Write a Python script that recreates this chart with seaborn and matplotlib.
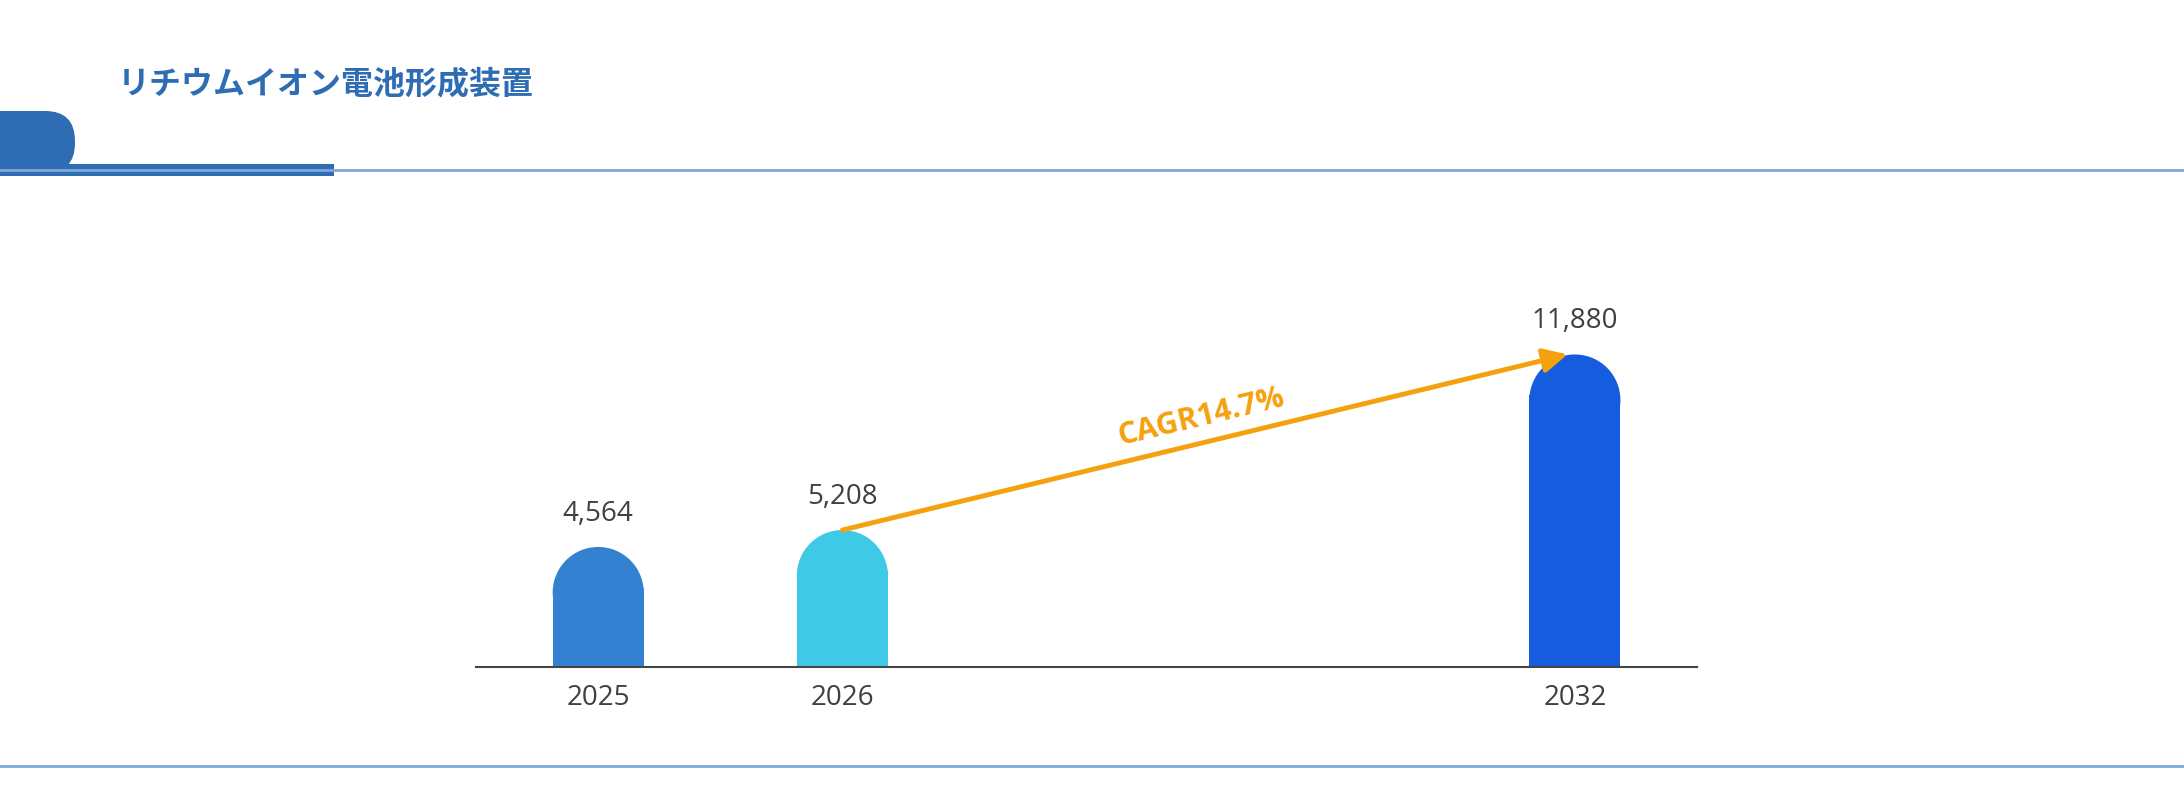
import matplotlib
matplotlib.use("Agg")
import matplotlib.pyplot as plt
import seaborn as sns
import pandas as pd
from matplotlib.patches import Rectangle, Ellipse, FancyBboxPatch

years = ["2025", "2026", " ", "  ", "2032"]
bar_years = ["2025", "2026", "2032"]
values = [4564, 5208, 11880]
colors = ["#3481D2", "#3ECAE6", "#165CDE"]
title = "リチウムイオン電池形成装置"
cagr_label = "CAGR14.7%"

sns.set_theme(style="white")
plt.rcParams["font.family"] = ["Open Sans", "Noto Sans CJK JP", "DejaVu Sans"]

fig = plt.figure(figsize=(21.84, 7.96), dpi=100)
ax = fig.add_axes([0.218, 0.162, 0.559, 0.595])

df = pd.DataFrame({"year": bar_years, "value": values})
sns.barplot(data=df, x="year", y="value", order=years, hue="year",
            palette=dict(zip(bar_years, colors)), width=0.373, saturation=1,
            legend=False, ax=ax)
ax.set_xlim(-0.5, 4.5)
ax.set_ylim(0, 18000)

# replace bars with rounded-top versions
px_per_y = ax.transData.transform((0, 1))[1] - ax.transData.transform((0, 0))[1]
px_per_x = ax.transData.transform((1, 0))[0] - ax.transData.transform((0, 0))[0]
tops = {}
for patch in list(ax.patches):
    x, w, h = patch.get_x(), patch.get_width(), patch.get_height()
    if h <= 0:
        continue
    fc = patch.get_facecolor()
    patch.set_visible(False)
    r = (w * px_per_x / 2) / px_per_y
    ax.add_patch(Rectangle((x, 0), w, h - r * 0.9, facecolor=fc, edgecolor="none", lw=0))
    ax.add_patch(Ellipse((x + w / 2, h - r), w, 2 * r, facecolor=fc, edgecolor="none", lw=0))
    tops[round(x + w / 2)] = h
    ax.annotate(f"{int(h):,}", (x + w / 2, h), xytext=(0, 14), textcoords="offset points",
                ha="center", va="bottom", fontsize=20, color="#404040")

# CAGR arrow
ax.annotate("", xy=(3.97, tops[4]), xytext=(1, tops[1]),
            arrowprops=dict(arrowstyle="-|>,head_length=1.2,head_width=0.6",
                            color="#F5A10F", lw=3.5, shrinkA=0, shrinkB=0))
ax.text(2.47, 9500, cagr_label, rotation=13.5, ha="center", va="center",
        fontsize=22, fontweight="bold", color="#F5A10F")

for s in ["top", "right", "left"]:
    ax.spines[s].set_visible(False)
ax.spines["bottom"].set_color("#444444")
ax.spines["bottom"].set_linewidth(1.5)
ax.set_yticks([])
ax.set_xlabel("")
ax.set_ylabel("")
ax.tick_params(axis="x", length=0, labelsize=20, labelcolor="#404040", pad=12)

# header and frame decorations in pixel coords
ov = fig.add_axes([0, 0, 1, 1], zorder=-1)
ov.set_xlim(0, 2184)
ov.set_ylim(796, 0)
ov.axis("off")
ov.plot([0, 2184], [170, 170], color="#7FA8D8", lw=2)
ov.plot([0, 2184], [766, 766], color="#7FA8D8", lw=2)
ov.add_patch(Rectangle((0, 164), 334, 12, facecolor="#2E6DB4", edgecolor="none"))
ov.add_patch(FancyBboxPatch((-60, 111), 135, 62, boxstyle="round,pad=0,rounding_size=30",
                            facecolor="#2E6DB4", edgecolor="none"))
ov.text(118, 84, title, ha="left", va="center", fontsize=23, fontweight="bold",
        color="#2E6DB4", family=["Noto Sans CJK JP", "DejaVu Sans"])

fig.savefig("out.png", dpi=100)
